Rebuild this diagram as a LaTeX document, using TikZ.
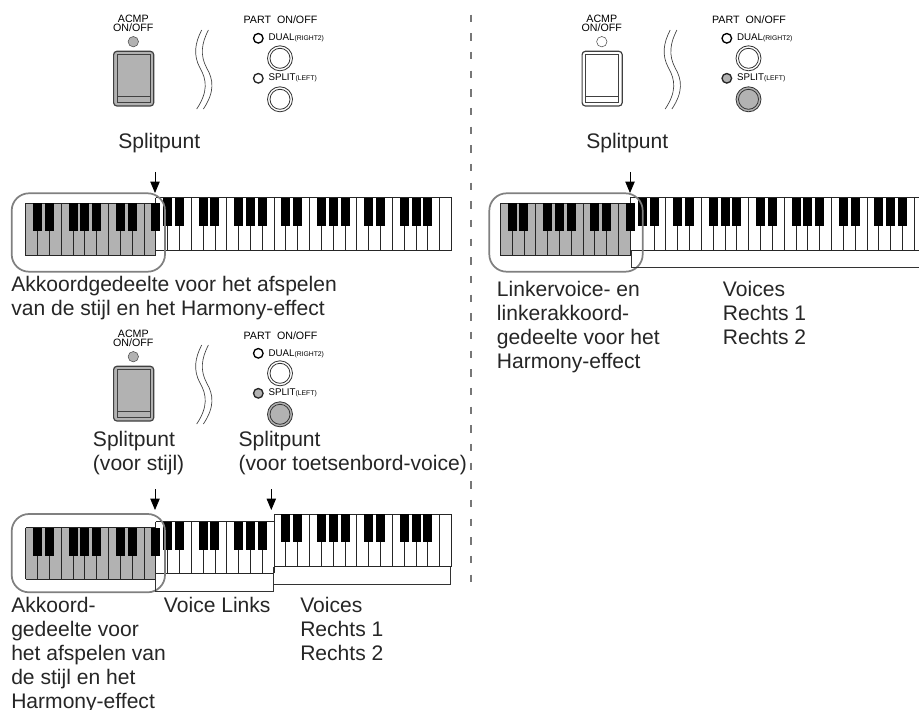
\documentclass[tikz,border=0pt]{standalone}
\usepackage{fontspec}
\setmainfont{Liberation Sans}
\usetikzlibrary{arrows.meta}

\definecolor{keygrey}{HTML}{B2B2B2}
\definecolor{ringgrey}{HTML}{808080}
\definecolor{dashgrey}{HTML}{777777}

% one run of keys: x of key 0, first key, last key, last black key, top, bottom, white fill
\newcommand{\keyrun}[7]{
  \pgfmathsetmacro{\runleft}{#1+11.83*#2}
  \pgfmathsetmacro{\runright}{#1+11.83*#3}
  \fill[#7] (\runleft,#5) rectangle (\runright,#6);
  \foreach \k in {#2,...,#3} {
    \pgfmathsetmacro{\kx}{#1+11.83*\k}
    \draw[keyline] (\kx,#5) -- (\kx,#6);
  }
  \draw[keyline] (\runleft,#5) -- (\runright,#5);
  \draw[keyline] (\runleft,#6) -- (\runright,#6);
  \pgfmathtruncatemacro{\firstblack}{#2+1}
  \foreach \k in {\firstblack,...,#4} {
    \pgfmathtruncatemacro{\rem}{mod(\k,7)}
    \pgfmathsetmacro{\kx}{#1+11.83*\k}
    \ifnum\rem=0 \else\ifnum\rem=3 \else
      \fill[black] (\kx-4.5,#5) rectangle (\kx+4.5,#5+28);
    \fi\fi
  }
}

% buttons of one panel: name, x shift, y shift, acmp fill, split fill
\newcommand{\controlpanel}[5]{
  \begin{scope}[shift={(#2,#3)}]
    % acmp switch
    \node[paneltxt,align=center,anchor=base] (#1acmp) at (133.3,31.7) {ACMP\\ON/OFF};
    \draw[black!70,fill=#4] (133.3,41.7) circle (5.2);
    \draw[black!75,line width=0.9pt,rounded corners=2.5pt,fill=#4] (113.6,51.3) rectangle (153.7,106);
    \draw[black!75,line width=0.5pt] (117.3,54.5) rectangle (150,102.7);
    \draw[black!75,line width=0.5pt] (117.3,96) -- (150,96);
    % the two wavy break lines
    \draw[black!75,line width=0.5pt] (201.7,30) .. controls (195,43) and (193,55) .. (200,68) .. controls (207,80) and (208,92) .. (196.7,109);
    \draw[black!75,line width=0.5pt] (208.4,30) .. controls (201.7,43) and (199.7,55) .. (206.7,68) .. controls (213.7,80) and (214.7,92) .. (203.4,109);
    % part on/off
    \node[paneltxt] (#1part) at (243.3,24) {PART\hspace{4.5pt}ON/OFF};
    \draw[black,line width=1pt,fill=white] (258.3,38.3) circle (4.8);
    \node[paneltxt] (#1dual) at (268.3,41) {\fontsize{7.3}{8}\selectfont DUAL{\fontsize{5.1}{6}\selectfont(RIGHT2)}};
    \draw[black!80,line width=0.6pt,fill=white] (280,58.3) circle (12.5);
    \draw[black!80,line width=0.6pt] (280,58.3) circle (10);
    \draw[black!85,line width=1pt,fill=#5] (258.3,78.3) circle (4.8);
    \node[paneltxt] (#1split) at (268.3,80.7) {\fontsize{7.3}{8}\selectfont SPLIT{\fontsize{5.1}{6}\selectfont(LEFT)}};
    \draw[black!80,line width=0.6pt,fill=#5] (280,99.3) circle (12.5);
    \draw[black!80,line width=0.6pt] (280,99.3) circle (10);
  \end{scope}
}

\begin{document}
\begin{tikzpicture}[x=0.75pt,y=-0.75pt,
    keyline/.style={black!85,line width=0.7pt},
    zone/.style={ringgrey,line width=1.3pt,rounded corners=13pt},
    bracket/.style={black!80,line width=0.7pt},
    splitarrow/.style={black,line width=0.6pt,-{Stealth[length=8.5pt,width=7pt,inset=0pt]}},
    paneltxt/.style={anchor=base west,inner sep=0pt,font=\fontsize{8}{6.9}\selectfont},
    txt/.style={anchor=base west,inner sep=0pt,align=left,text=black!85,font=\fontsize{15.8}{18}\selectfont}]
  \path[use as bounding box,clip] (0,0) rectangle (919,709);
  \fill[white] (0,0) rectangle (919,709);

  % panels
  \controlpanel{a}{0}{0}{keygrey}{white}
  \controlpanel{b}{468.5}{0}{white}{keygrey}
  \controlpanel{c}{0}{315}{keygrey}{keygrey}

  % dashed separator
  \coordinate (dashtop) at (471,14.6);
  \coordinate (dashend) at (471,582);
  \draw[dashgrey,line width=1.1pt,dash pattern=on 5.5pt off 8.5pt] (dashtop) -- (dashend);

  % upper left keyboard
  \keyrun{25.7}{11}{36}{35}{197.7}{250}{white}
  \keyrun{25.7}{0}{11}{11}{203}{255.7}{keygrey}
  \draw[zone] (11.7,193.3) rectangle (165,271.7);
  \node[txt] (splitA) at (118,149) {Splitpunt};
  \coordinate (splitAtop) at (155,172);
  \coordinate (splitAtip) at (155,193);
  \draw[splitarrow] (splitAtop) -- (splitAtip);
  \node[txt] (chordA) at (11,315.7) {Akkoordgedeelte voor het afspelen\\van de stijl en het Harmony-effect};

  % upper right keyboard
  \keyrun{500.3}{11}{36}{35}{197.7}{250}{white}
  \keyrun{500.3}{0}{11}{11}{203}{255.7}{keygrey}
  \draw[zone] (489.3,193.3) rectangle (642.7,271.7);
  \draw[bracket] (631,250) -- (631,267.7) -- (919,267.7);
  \node[txt] (splitB) at (586,149) {Splitpunt};
  \coordinate (splitBtop) at (630,172);
  \coordinate (splitBtip) at (630,193);
  \draw[splitarrow] (splitBtop) -- (splitBtip);
  \node[txt] (chordB) at (496.7,368.7) {Linkervoice- en\\linkerakkoord-\\gedeelte voor het\\Harmony-effect};
  \node[txt] (voicesB) at (722.7,344.7) {Voices\\Rechts 1\\Rechts 2};

  % lower keyboard in three runs
  \keyrun{25.7}{21}{36}{35}{514.3}{566.7}{white}
  \keyrun{25.7}{11}{21}{20}{521.7}{573.3}{white}
  \keyrun{25.7}{0}{11}{11}{527.7}{579}{keygrey}
  \draw[zone] (11.7,514) rectangle (165,592.3);
  \draw[bracket] (155.7,573.3) -- (155.7,591) -- (273.9,591) -- (273.9,566.7);
  \draw[bracket] (273.9,584) -- (450,584) -- (450,566.7);
  \node[txt] (splitC) at (92.7,470.7) {Splitpunt\\(voor stijl)};
  \node[txt] (splitD) at (238.3,470.7) {Splitpunt\\(voor toetsenbord-voice)};
  \coordinate (splitCtop) at (155,489);
  \coordinate (splitCtip) at (155,510);
  \draw[splitarrow] (splitCtop) -- (splitCtip);
  \coordinate (splitDtop) at (271.3,489);
  \coordinate (splitDtip) at (271.3,510);
  \draw[splitarrow] (splitDtop) -- (splitDtip);
  \node[txt] (chordC) at (11,708.7) {Akkoord-\\gedeelte voor\\het afspelen van\\de stijl en het\\Harmony-effect};
  \node[txt] (linksC) at (163.7,612.7) {Voice Links};
  \node[txt] (voicesC) at (300,660.7) {Voices\\Rechts 1\\Rechts 2};
\end{tikzpicture}
\end{document}
